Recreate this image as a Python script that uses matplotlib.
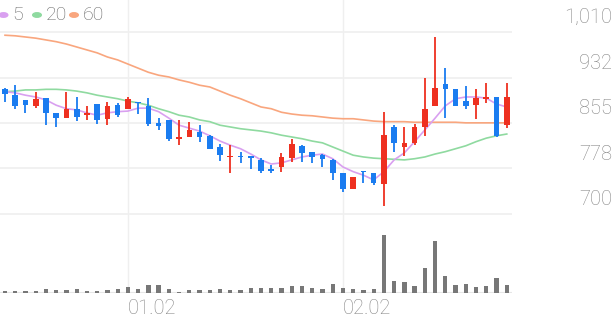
import matplotlib
matplotlib.use("Agg")
import matplotlib.pyplot as plt
import matplotlib.transforms as mtransforms
import numpy as np

plt.rcParams['font.family'] = ['Roboto', 'DejaVu Sans']

# daily candles
opens = [913, 902, 894, 884, 897, 872, 863, 879, 869, 887, 862, 885, 879, 891, 884, 855, 860,
         828, 831, 840, 833, 814, 797, 799, 799, 792, 777, 780, 795, 816, 806, 800, 792, 770,
         743, 773, 770, 751, 848, 814, 821, 848, 884, 921, 913, 892, 885, 896, 899, 851]
highs = [914, 919, 894, 908, 897, 872, 908, 899, 884, 887, 891, 889, 899, 891, 897, 863, 860,
         860, 857, 851, 834, 819, 817, 805, 799, 795, 783, 804, 828, 817, 806, 802, 793, 770,
         763, 773, 770, 874, 851, 848, 853, 931, 1001, 948, 913, 918, 913, 923, 899, 923]
lows = [890, 879, 872, 880, 851, 848, 863, 858, 860, 853, 851, 865, 879, 870, 850, 843, 824,
        817, 831, 823, 810, 790, 770, 787, 777, 770, 770, 772, 789, 789, 787, 780, 758, 737,
        742, 753, 749, 714, 805, 799, 817, 833, 884, 863, 883, 879, 862, 889, 831, 846]
closes = [904, 884, 885, 896, 872, 863, 879, 865, 871, 860, 884, 868, 896, 888, 853, 850, 828,
          831, 843, 831, 811, 800, 799, 797, 796, 773, 773, 797, 819, 804, 797, 794, 770, 743,
          763, 771, 753, 834, 821, 821, 848, 879, 914, 913, 884, 884, 897, 899, 833, 899]
volumes = [20, 20, 20, 25, 40, 30, 30, 40, 20, 25, 30, 40, 60, 40, 80, 80, 40, 15, 30, 30,
           35, 40, 30, 35, 50, 50, 50, 50, 70, 67, 47, 40, 93, 50, 43, 33, 40, 577, 117, 107,
           67, 250, 517, 173, 80, 90, 57, 73, 150, 77]

ma5 = [908, 906, 902, 899, 894, 885, 879, 877, 872, 868, 872, 874, 875, 880, 880, 874, 863,
       851, 846, 841, 833, 824, 817, 811, 802, 792, 785, 787, 792, 797, 800, 802, 794, 780,
       772, 766, 758, 772, 792, 804, 823, 843, 863, 884, 896, 899, 899, 897, 887, 882]
ma20 = [908, 909, 911, 911, 912, 912, 911, 909, 906, 902, 899, 896, 892, 889, 885, 879, 874,
        868, 865, 860, 857, 851, 848, 845, 843, 841, 838, 834, 831, 828, 824, 821, 814, 807,
        800, 797, 795, 794, 793, 792, 794, 797, 802, 806, 811, 816, 823, 829, 833, 836]
ma60 = [1004, 1003, 1001, 999, 996, 993, 989, 984, 979, 974, 967, 962, 955, 948, 941, 936,
        933, 928, 924, 919, 916, 909, 902, 896, 889, 882, 879, 873, 870, 868, 867, 865, 863,
        862, 862, 860, 858, 857, 857, 857, 856, 856, 856, 856, 856, 855, 855, 855, 855, 855]

price_ticks = [1010, 932, 855, 778, 700]
date_idx = [12, 33]
date_labels = ["01.02", "02.02"]
ma_labels = ["5", "20", "60"]
ma_colors = ["#d9a0f0", "#8fdaa0", "#f9a67e"]

up_color = "#ee3020"
down_color = "#1a7cf0"
grid_color = "#efefef"
label_color = "#858585"

W, H = 616, 321
fig = plt.figure(figsize=(W / 100, H / 100), dpi=100)
ax = fig.add_axes([0, (H - 214) / H, 512 / W, 214 / H])
axv = fig.add_axes([0, (H - 293) / H, 512 / W, 79 / H], sharex=ax)

x = np.arange(len(closes))
o = np.array(opens)
c = np.array(closes)
colors = [up_color if cc >= oo else down_color for oo, cc in zip(o, c)]

for a in (ax, axv):
    for s in a.spines.values():
        s.set_visible(False)
    a.tick_params(left=False, right=False, bottom=False, top=False,
                  labelleft=False, labelbottom=False)
    for d in date_idx:
        a.axvline(d, color=grid_color, lw=1, zorder=0)

for t in price_ticks:
    ax.axhline(t, color=grid_color, lw=1.2, zorder=0)

# candles
ax.vlines(x, lows, highs, colors=colors, lw=1.3, zorder=3)
body = np.maximum(np.abs(c - o), 1.5)
ax.bar(x, body, bottom=np.minimum(o, c), width=0.55, color=colors, zorder=3)

# moving averages
for vals, col in zip([ma60, ma20, ma5], ma_colors[::-1]):
    ax.plot(x, vals, color=col, lw=1.2, zorder=2)

ax.set_xlim(-0.49, 49.51)
ax.set_ylim(700, 1063.9)

# price labels sit above their grid lines
trans = mtransforms.blended_transform_factory(fig.transFigure, ax.transData)
trans = mtransforms.offset_copy(trans, fig=fig, x=0, y=14, units='dots')
for t in price_ticks:
    fig.text(612 / W, t, f"{t:,}", transform=trans, ha='right', va='center',
             fontsize=14.5, color=label_color, fontweight='light')

# legend
lx = [3.5, 37, 74]
for xx, lab, col in zip(lx, ma_labels, ma_colors):
    fig.patches.append(plt.Circle((xx / W, (H - 15) / H), 4.3 / W, color=col,
                                  transform=fig.transFigure, figure=fig))
    fig.text((xx + 9) / W, (H - 15) / H, lab, ha='left', va='center',
             fontsize=14, color="#666666", fontweight='light')

# volume
axv.bar(x, volumes, width=0.42, color="#777777", zorder=3)
axv.set_ylim(0, 790)
axv.axhline(0, color="#e6e6e6", lw=1.5, zorder=2)
axv.axhline(790, color=grid_color, lw=1.2, zorder=0)

for d, lab in zip(date_idx, date_labels):
    axv.text(d, -0.19, lab, transform=mtransforms.blended_transform_factory(axv.transData, axv.transAxes),
             ha='left', va='center', fontsize=14.5, color=label_color, fontweight='light')

fig.savefig("out.png", dpi=100)
